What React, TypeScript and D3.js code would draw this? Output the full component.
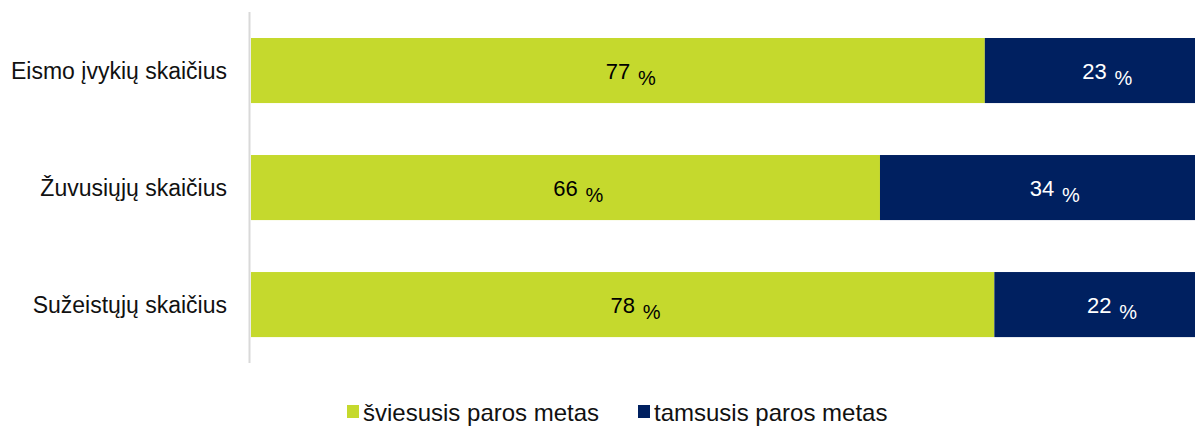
import React from 'react';
import * as d3 from 'd3';

const categories = ['Eismo įvykių skaičius', 'Žuvusiųjų skaičius', 'Sužeistųjų skaičius'];
const lightValues = [77, 66, 78];
const darkValues = [23, 34, 22];
const seriesNames = ['šviesusis paros metas', 'tamsusis paros metas'];
const colors = ['#c5d92d', '#002060'];

const width = 1195;
const height = 426;
const labelFont = "'Liberation Sans', Arial, sans-serif";

const App = () => {
  const x = d3.scaleLinear().domain([0, 100]).range([251, 1204]);
  const y = d3.scaleBand().domain(categories).range([14.6, 360.5]).paddingInner(0.444).paddingOuter(0.2);

  const rows = categories.map((c, i) => ({
    category: c,
    segs: [
      { start: 0, value: lightValues[i], color: colors[0], text: '#000' },
      { start: lightValues[i], value: darkValues[i], color: colors[1], text: '#fff' },
    ],
  }));

  return (
    <svg width={width} height={height} style={{ position: 'absolute', left: 0, top: 0 }}>
      <line x1={249.5} x2={249.5} y1={12} y2={363} stroke="#d9d9d9" strokeWidth={2} />
      {rows.map(r => {
        const y0 = y(r.category) as number;
        const cy = y0 + y.bandwidth() / 2;
        return (
          <g key={r.category}>
            <text x={227} y={cy + 8} textAnchor="end" fontFamily={labelFont} fontSize={23} fill="#111">
              {r.category}
            </text>
            {r.segs.map((s, j) => {
              const x0 = x(s.start);
              const x1 = x(s.start + s.value);
              const mid = (x0 + x1) / 2;
              return (
                <g key={j}>
                  <rect x={x0} y={y0} width={x1 - x0} height={y.bandwidth()} fill={s.color} />
                  <text x={mid} y={cy + 8} textAnchor="middle" fontFamily={labelFont} fontSize={22} fill={s.text}>
                    {s.value}
                  </text>
                  <text x={mid + 20} y={cy + 14} fontFamily={labelFont} fontSize={20} fill={s.text}>
                    %
                  </text>
                </g>
              );
            })}
          </g>
        );
      })}
      {seriesNames.map((n, i) => {
        const lx = i === 0 ? 347 : 638;
        return (
          <g key={n}>
            <rect x={lx} y={405} width={12} height={13} fill={colors[i]} />
            <text x={lx + 16} y={421} fontFamily={labelFont} fontSize={24} fill="#111">
              {n}
            </text>
          </g>
        );
      })}
    </svg>
  );
};

export default App;
